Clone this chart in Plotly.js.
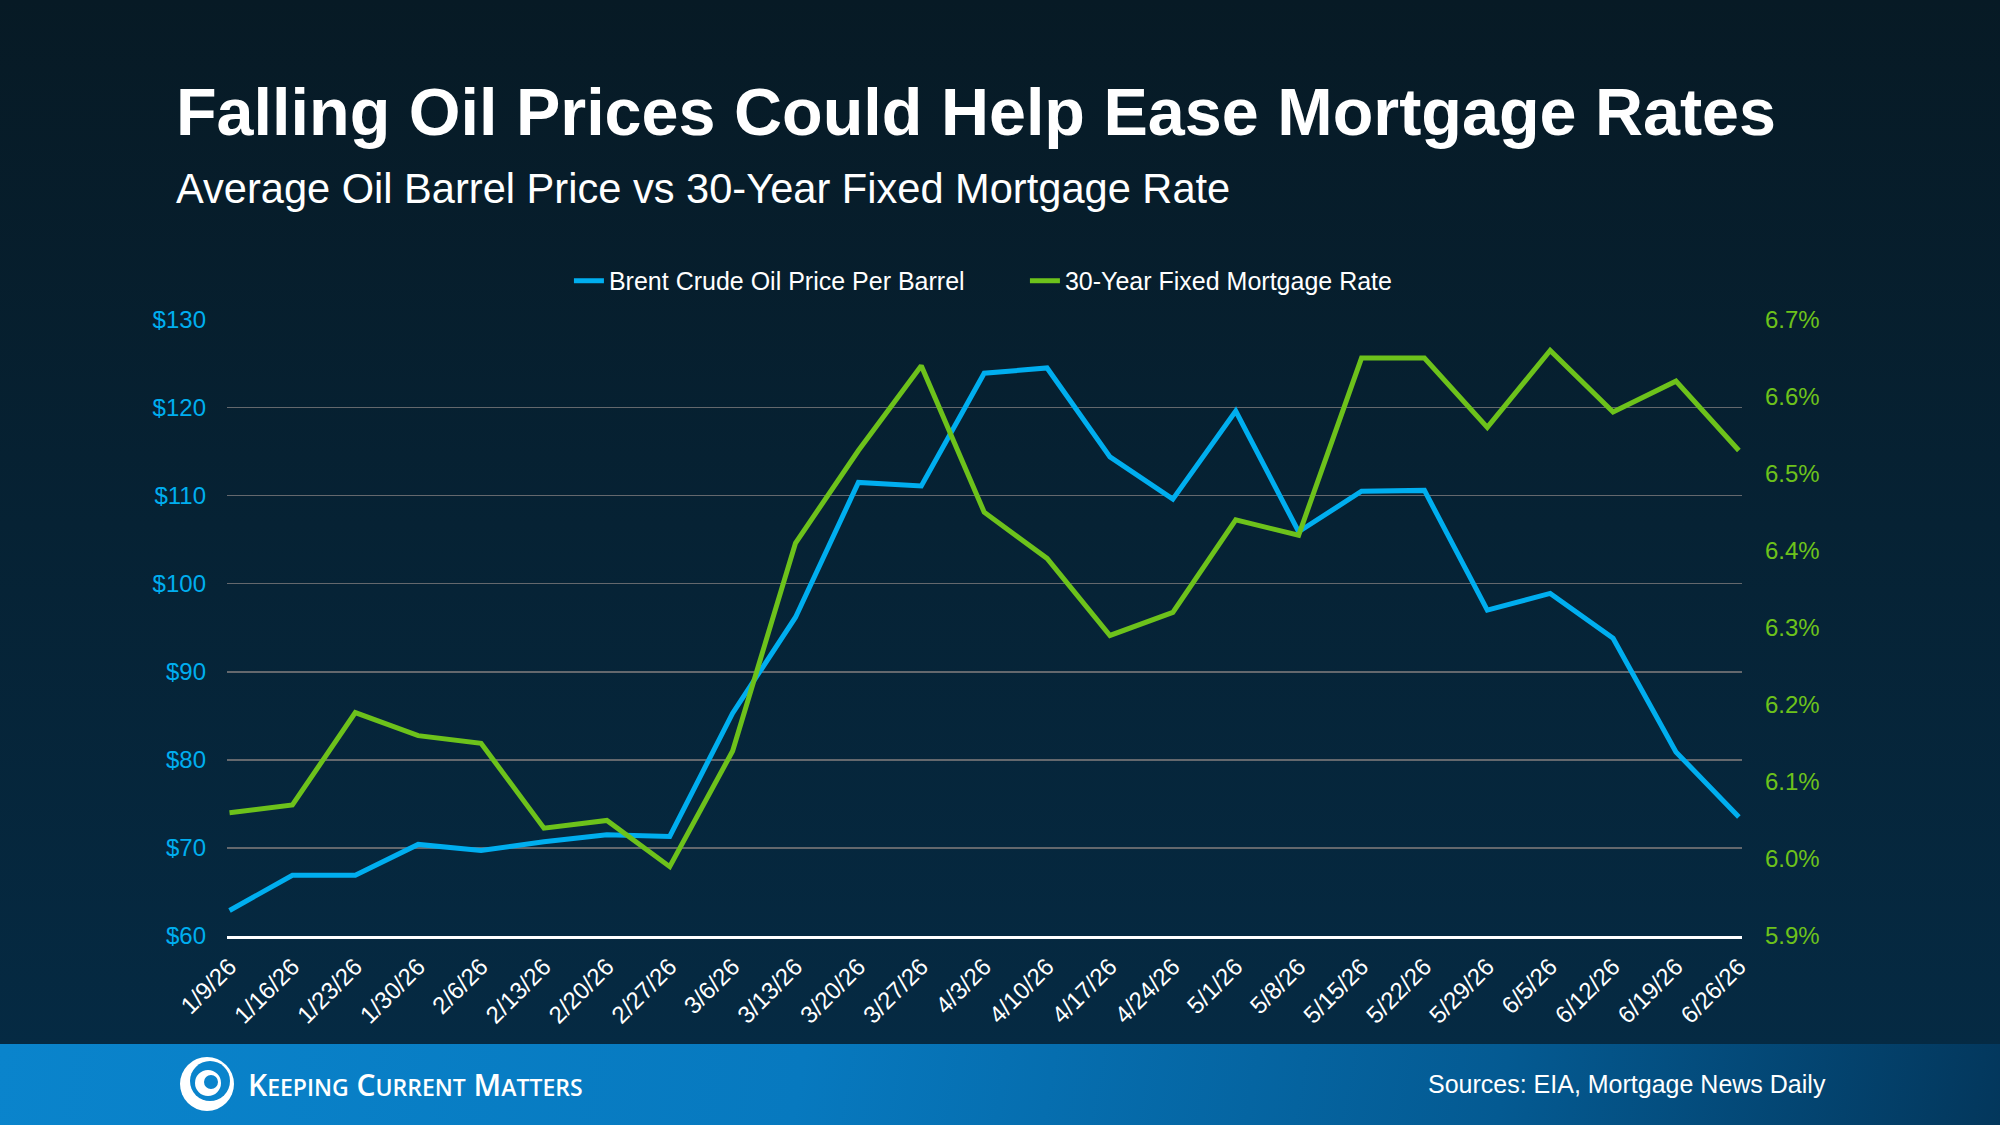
<!DOCTYPE html>
<html>
<head>
<meta charset="utf-8">
<script src="https://cdn.plot.ly/plotly-3.0.1.min.js"></script>
<style>
  html, body { margin: 0; padding: 0; background: #052a43; }
  #wrap { position: relative; width: 2000px; height: 1125px; overflow: hidden;
          background: linear-gradient(180deg, #071a25 0%, #052a43 93%); }
  #footer { position: absolute; left: 0; top: 1044px; width: 2000px; height: 81px;
            background: linear-gradient(100deg, #0a84cc 0%, #0779bf 40%, #045a92 75%, #03375c 100%); }
  #chart { position: absolute; left: 0; top: 0; width: 2000px; height: 1125px; }
</style>
</head>
<body>
<div id="wrap">
  <div id="footer"></div>
  <div id="chart"></div>
</div>
<script>
// ---- data ----
const dates = ["1/9/26","1/16/26","1/23/26","1/30/26","2/6/26","2/13/26","2/20/26","2/27/26",
  "3/6/26","3/13/26","3/20/26","3/27/26","4/3/26","4/10/26","4/17/26","4/24/26",
  "5/1/26","5/8/26","5/15/26","5/22/26","5/29/26","6/5/26","6/12/26","6/19/26","6/26/26"];
const oilPrice = [62.9, 66.9, 66.9, 70.4, 69.7, 70.7, 71.5, 71.3,
  85.3, 96.2, 111.5, 111.1, 123.9, 124.5, 114.4, 109.6,
  119.6, 105.9, 110.5, 110.6, 97.0, 98.9, 93.8, 80.9, 73.5];
const mortgageRate = [6.06, 6.07, 6.19, 6.16, 6.15, 6.04, 6.05, 5.99,
  6.14, 6.41, 6.53, 6.64, 6.45, 6.39, 6.29, 6.32,
  6.44, 6.42, 6.65, 6.65, 6.56, 6.66, 6.58, 6.62, 6.53];
const seriesNames = ["Brent Crude Oil Price Per Barrel", "30-Year Fixed Mortgage Rate"];
const titleText = "Falling Oil Prices Could Help Ease Mortgage Rates";
const subtitleText = "Average Oil Barrel Price vs 30-Year Fixed Mortgage Rate";
const sourceText = "Sources: EIA, Mortgage News Daily";

const BLUE = "#00aeef";
const GREEN = "#6dc21b";
const FONT = "Liberation Sans, Arial, sans-serif";

const traces = [
  { x: dates, y: oilPrice, name: seriesNames[0], type: "scatter", mode: "lines",
    line: { color: BLUE, width: 5 }, yaxis: "y" },
  { x: dates, y: mortgageRate, name: seriesNames[1], type: "scatter", mode: "lines",
    line: { color: GREEN, width: 5 }, yaxis: "y2" }
];

// logo circles (pixel sized, anchored in paper coords)
const lx = -0.0132, ly = -0.2399;
function circ(dx, dy, r, color) {
  return { type: "circle", xref: "paper", yref: "paper", xsizemode: "pixel", ysizemode: "pixel",
    xanchor: lx, yanchor: ly, x0: dx - r, x1: dx + r, y0: dy - r, y1: dy + r,
    fillcolor: color, line: { width: 0 }, layer: "above" };
}

const layout = {
  width: 2000, height: 1125,
  paper_bgcolor: "rgba(0,0,0,0)", plot_bgcolor: "rgba(0,0,0,0)",
  margin: { l: 227, r: 258, t: 319, b: 189 },
  font: { family: FONT, color: "#ffffff" },
  showlegend: true,
  legend: { orientation: "h", x: 0.2257, xanchor: "left", y: 1.0616, yanchor: "middle",
    font: { family: FONT, size: 25, color: "#ffffff" }, bgcolor: "rgba(0,0,0,0)",
    entrywidth: 411, entrywidthmode: "pixels" },
  xaxis: { type: "category", range: [-0.04, 24.05], showgrid: false, zeroline: false,
    showline: true, linecolor: "#ffffff", linewidth: 3,
    tickangle: -45, tickfont: { family: FONT, size: 24, color: "#ffffff" },
    ticks: "", ticklabelstandoff: 4, fixedrange: true },
  yaxis: { range: [60, 130.06], dtick: 10, tick0: 60, tickprefix: "$", showgrid: true, gridcolor: "#64686d",
    gridwidth: 1.5, zeroline: false, showline: false, ticks: "",
    tickfont: { family: FONT, size: 24, color: BLUE }, ticklabelstandoff: 20 },
  yaxis2: { range: [5.9, 6.70069], dtick: 0.1, tick0: 5.9, tickformat: ".1f", ticksuffix: "%", overlaying: "y",
    side: "right", showgrid: false, zeroline: false, showline: false, ticks: "",
    tickfont: { family: FONT, size: 24, color: GREEN }, ticklabelstandoff: 22 },
  annotations: [
    { text: "<b>" + titleText + "</b>", xref: "paper", yref: "paper", x: -0.035, xanchor: "left",
      y: 1.3355, yanchor: "middle", showarrow: false, font: { family: FONT, size: 66.5, color: "#ffffff" } },
    { text: subtitleText, xref: "paper", yref: "paper", x: -0.035, xanchor: "left",
      y: 1.2115, yanchor: "middle", showarrow: false, font: { family: FONT, size: 41.6, color: "#ffffff" } },
    { text: sourceText, xref: "paper", yref: "paper", x: 1.0567, xanchor: "right",
      y: -0.2399, yanchor: "middle", showarrow: false, font: { family: FONT, size: 25, color: "#ffffff" } },
    { text: "K<span style='font-size:23px'>EEPING</span> C<span style='font-size:23px'>URRENT</span> M<span style='font-size:23px'>ATTERS</span>",
      xref: "paper", yref: "paper", x: 0.0125, xanchor: "left", y: -0.2399, yanchor: "middle",
      showarrow: false, font: { family: "Open Sans, sans-serif", size: 30, color: "#ffffff", weight: 600 } }
  ],
  shapes: [
    circ(0, 0, 27, "#ffffff"),
    circ(3, 3, 20, "#0a84cc"),
    circ(1, 1, 13, "#ffffff"),
    circ(4, 2, 7, "#0a84cc")
  ]
};

Plotly.newPlot("chart", traces, layout, { displayModeBar: false, staticPlot: true });
</script>
</body>
</html>
